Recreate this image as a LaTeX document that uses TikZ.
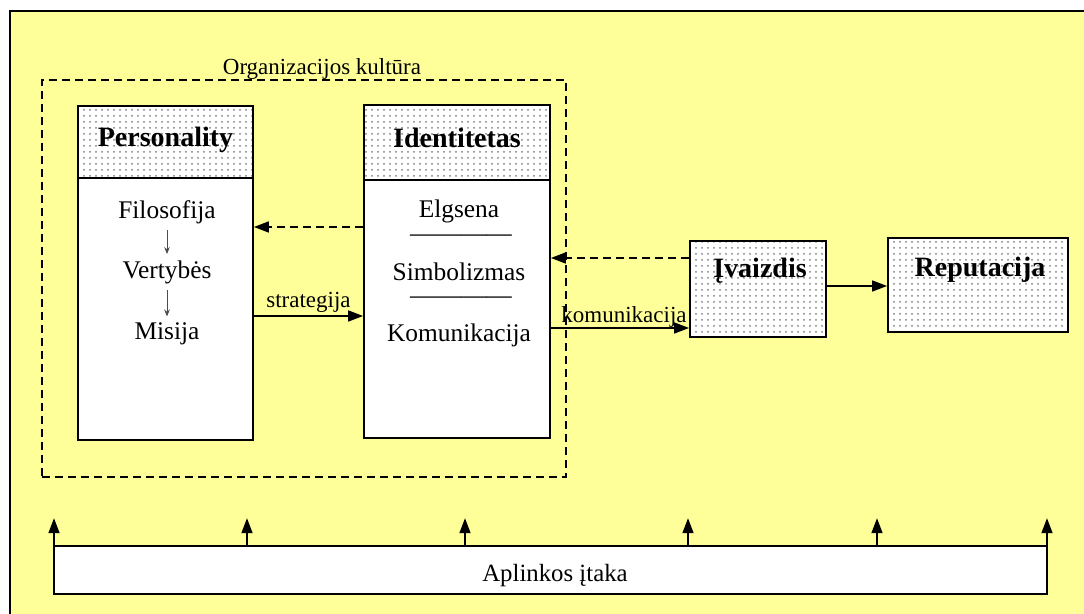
\documentclass[tikz,border=0pt]{standalone}
\usepackage{fontspec}
\setmainfont{Liberation Serif}
\usetikzlibrary{arrows.meta,patterns}
\definecolor{back area}{RGB}{255,255,153}
\colorlet{dot color}{black!50}
\colorlet{small tip}{black!70}
\tikzset{boxed/.style={draw, line width=0.9pt},
	header/.style={boxed, preaction={fill=white}, pattern=dots, pattern color=dot color},
	headtext/.style={font=\fontsize{14}{16}\selectfont\bfseries, text height=0.7em, text depth=0.22em},
	body/.style={boxed, fill=white},
	item/.style={font=\fontsize{12.7}{15}\selectfont, inner sep=0pt},
	tag/.style={font=\fontsize{11.5}{13}\selectfont},
	link/.style={line width=0.8pt, -{Triangle[length=7.5pt,width=5.5pt]}},
	dashlink/.style={link, dash pattern=on 4pt off 2.5pt},
	thinlink/.style={draw=small tip, line width=0.45pt, -{Stealth[length=3.5pt,width=2.8pt]}, shorten <=3pt, shorten >=3pt}}

\begin{document}
\begin{tikzpicture}[x=0.5pt, y=-0.5pt]
		\useasboundingbox (0,0) rectangle (1084,614);
		\fill[white] (0,0) rectangle (1084,614);
		% background frame
		\fill[back area] (10,11) rectangle (1084,614);
		\draw[line width=1pt] (10,614) -- (10,11) -- (1084,11);
		
		% organizacijos kultura
		\node[draw, dash pattern=on 4pt off 2.5pt, line width=0.8pt, minimum width=262pt, minimum height=198.5pt] (cult) at (304,278.5) {};
		\node[tag, anchor=base, inner sep=0pt] (cultname) at (322,75) {Organizacijos kultūra};
		
		% personality
		\node[header, headtext, minimum width=87.5pt, minimum height=36pt] (ph) at (165.5,142) {Personality};
		\node[body, minimum width=87.5pt, minimum height=131pt] (pb) at (165.5,309) {};
		\node[item] (fil) at (167,212) {Filosofija};
		\node[item] (ver) at (167,272) {Vertybės};
		\node[item] (mis) at (167,334) {Misija};
		\draw[thinlink] (fil) -- (ver);
		\draw[thinlink] (ver) -- (mis);
		
		% identitetas
		\node[header, headtext, minimum width=93pt, minimum height=37.5pt] (ih) at (457,142.5) {Identitetas};
		\node[body, minimum width=93pt, minimum height=129pt] (ib) at (457,309) {};
		\node[item] (elg) at (459,211) {Elgsena};
		\node[item] (sep1) at (461,238) {————};
		\node[item] (sim) at (459,272) {Simbolizmas};
		\node[item] (sep2) at (461,300) {————};
		\node[item] (kom) at (459,335) {Komunikacija};
		
		% ivaizdis, reputacija
		\node[header, minimum width=68pt, minimum height=48pt] (ivz) at (758,289) {};
		\node[headtext] (ivzname) at (760,273) {Įvaizdis};
		\node[header, minimum width=90pt, minimum height=47pt] (rep) at (978,285) {};
		\node[headtext] (repname) at (980,272) {Reputacija};
		
		% connectors
		\coordinate (a1) at ([yshift=41pt]ib.west);
		\draw[dashlink] (a1) -- (a1 -| pb.east);
		\coordinate (a2) at ([yshift=-3.5pt]pb.east);
		\draw[link] (a2) -- node[tag, above, inner sep=1.5pt] (strat) {strategija} (a2 -| ib.west);
		\coordinate (a3) at ([yshift=15.5pt]ivz.west);
		\draw[dashlink] (a3) -- (a3 -| ib.east);
		\coordinate (a4) at ([yshift=-9.5pt]ib.east);
		\draw[link] (a4) -- node[tag, above, inner sep=0pt, xshift=2pt] (komlab) {komunikacija} (a4 -| ivz.west);
		\coordinate (a5) at ([yshift=1.5pt]ivz.east);
		\draw[link] (a5) -- (a5 -| rep.west);
		
		% aplinkos itaka
		\node[body, line width=0.8pt, minimum width=496.5pt, minimum height=24pt] (bar) at (550.5,570) {};
		\node[item, font=\fontsize{12.4}{15}\selectfont] (barname) at (555,576) {Aplinkos įtaka};
		\foreach \x in {54,247,465,688,877,1047}
			\draw[link] (bar.north -| \x,0) -- ++(0,-27);
\end{tikzpicture}
\end{document}
